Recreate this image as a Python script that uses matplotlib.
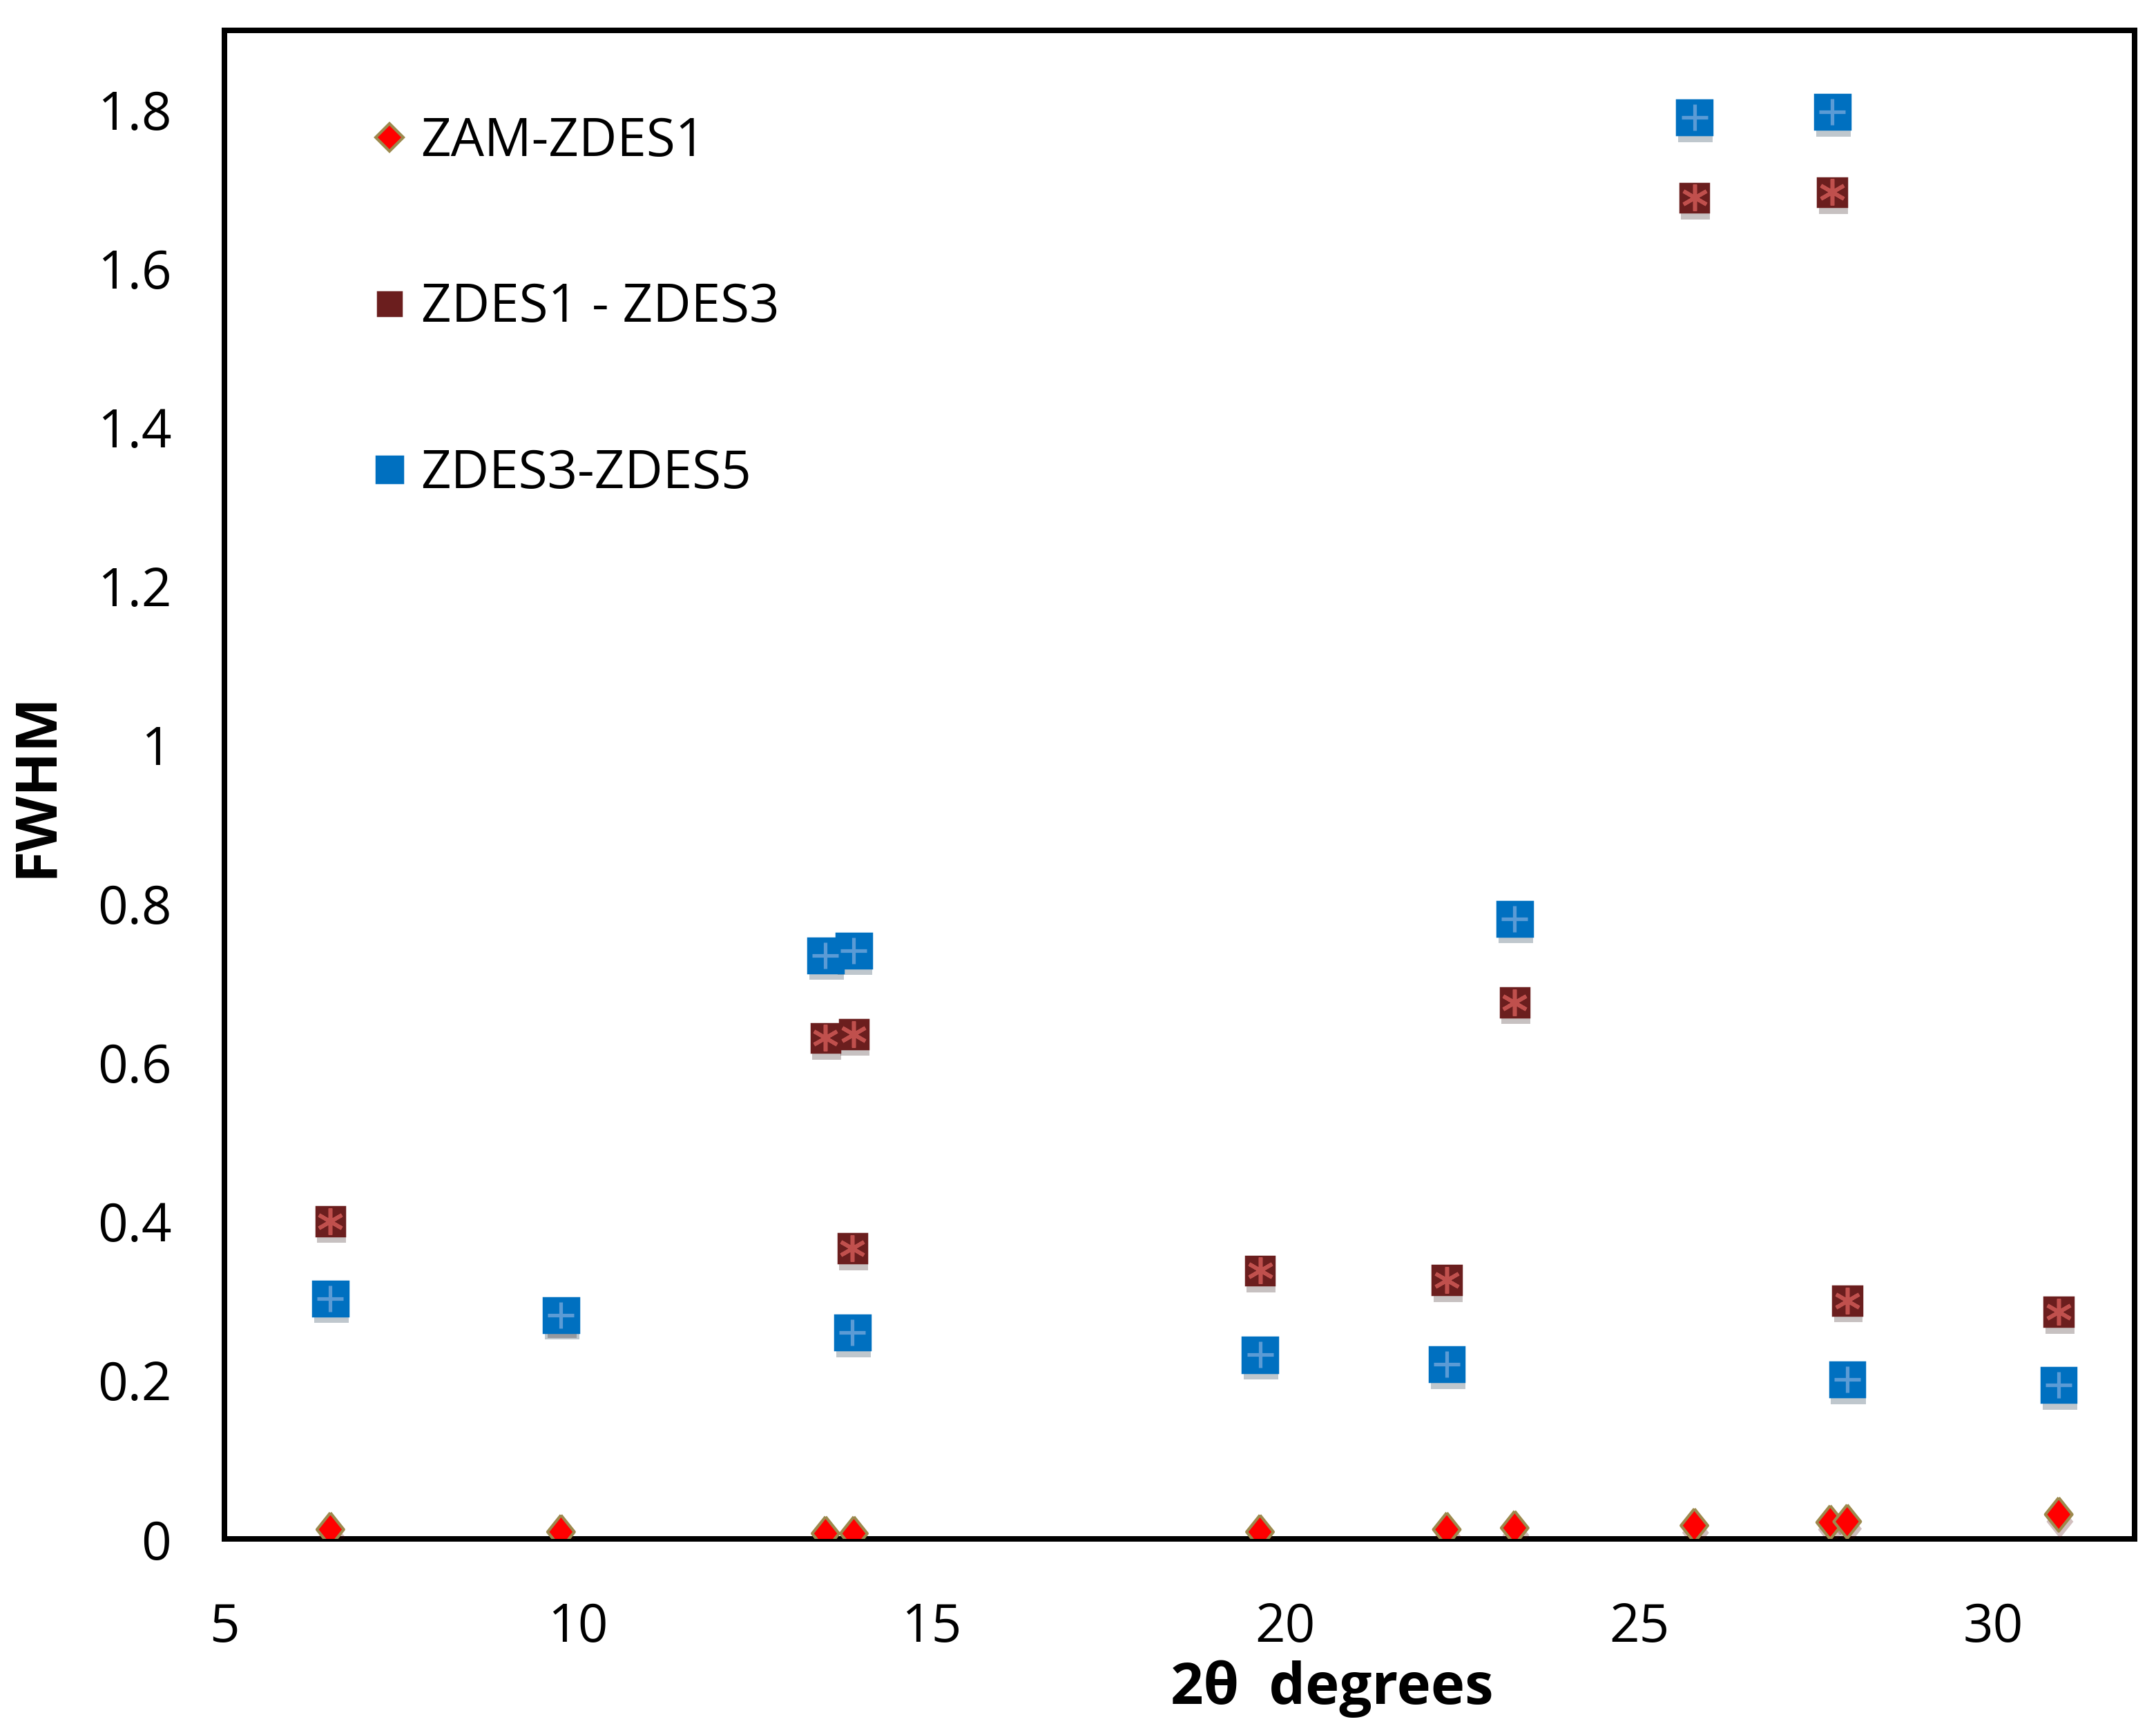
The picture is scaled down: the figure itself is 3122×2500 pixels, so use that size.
import numpy as np
import matplotlib
matplotlib.use('Agg')
import matplotlib.pyplot as plt
import matplotlib.patheffects as pe
from matplotlib.lines import Line2D

plt.rcParams['font.family'] = ['Open Sans', 'DejaVu Sans']

# 2theta positions (degrees)
x_pos = [6.50, 9.76, 13.50, 13.90, 13.88, 19.64, 22.28, 23.24, 25.78, 27.73, 27.94, 30.93]

# FWHM values
zam_x = [6.50, 9.76, 13.50, 13.90, 19.64, 22.28, 23.24, 25.78, 27.70, 27.94, 30.93]
zam_y = [0.012, 0.009, 0.007, 0.007, 0.009, 0.012, 0.014, 0.017, 0.021, 0.022, 0.031]

z13_y = [0.40, 0.28, 0.631, 0.636, 0.366, 0.338, 0.326, 0.676, 1.689, 1.696, 0.30, 0.286]
z35_y = [0.303, 0.282, 0.735, 0.741, 0.26, 0.232, 0.22, 0.781, 1.79, 1.797, 0.201, 0.194]

labels = ['ZAM-ZDES1', 'ZDES1 - ZDES3', 'ZDES3-ZDES5']
yticks = [0, 0.2, 0.4, 0.6, 0.8, 1.0, 1.2, 1.4, 1.6, 1.8]
ytick_labels = ['0', '0.2', '0.4', '0.6', '0.8', '1', '1.2', '1.4', '1.6', '1.8']
xticks = [5, 10, 15, 20, 25, 30]

red = '#FF0000'
olive = '#9C8A4E'
brown = '#6B1E1E'
brown_light = '#C0504D'
blue = '#0070C0'
blue_light = '#5B9BD5'

diamond = [(0, 1), (0.8, 0), (0, -1), (-0.8, 0), (0, 1)]
shadow = [pe.SimplePatchShadow(offset=(0.5, -3), alpha=0.25), pe.Normal()]

fig = plt.figure(figsize=(12.488, 10), dpi=250)
ax = fig.add_axes([0.104, 0.1083, 0.886, 0.8742])

# ZDES1 - ZDES3
ax.plot(x_pos, z13_y, ls='none', marker='s', ms=12, mfc=brown, mec=brown, zorder=3,
        path_effects=shadow)
ax.plot(x_pos, z13_y, ls='none', marker=(6, 2, 0), ms=11, mec=brown_light, mew=1.6, zorder=3.1)
# ZDES3-ZDES5
ax.plot(x_pos, z35_y, ls='none', marker='s', ms=14.5, mfc=blue, mec=blue, zorder=4,
        path_effects=shadow)
ax.plot(x_pos, z35_y, ls='none', marker='+', ms=11, mec=blue_light, mew=1.5, zorder=4.1)
# ZAM-ZDES1
ax.plot(zam_x, zam_y, ls='none', marker=diamond, ms=14, mfc=red, mec=olive, mew=1.2, zorder=5,
        path_effects=shadow)

ax.set_xlim(5, 32)
ax.set_ylim(0, 1.9)
ax.set_xticks(xticks)
ax.set_xticklabels([str(t) for t in xticks])
ax.set_yticks(yticks)
ax.set_yticklabels(ytick_labels)
ax.tick_params(length=0, labelsize=22)
ax.tick_params(axis='y', pad=22)
ax.tick_params(axis='x', pad=26)
for s in ax.spines.values():
    s.set_linewidth(2.3)
    s.set_color('black')

ax.set_ylabel('FWHM', fontsize=24, fontweight='bold')
ax.yaxis.set_label_coords(-0.083, 0.5)
ax.set_xlabel('2θ  degrees', fontsize=24, fontweight='bold')
ax.xaxis.set_label_coords(0.58, -0.08)

handles = [
    Line2D([], [], ls='none', marker='D', ms=8, mfc=red, mec=olive, mew=1.2),
    Line2D([], [], ls='none', marker='s', ms=10, mfc=brown, mec=brown),
    Line2D([], [], ls='none', marker='s', ms=11, mfc=blue, mec=blue),
]
ax.legend(handles, labels, loc='upper left', bbox_to_anchor=(0.045, 0.975), frameon=False,
          fontsize=22, labelspacing=2.15, handletextpad=0.0, handlelength=1.2)

fig.savefig('out.png', dpi=250)
